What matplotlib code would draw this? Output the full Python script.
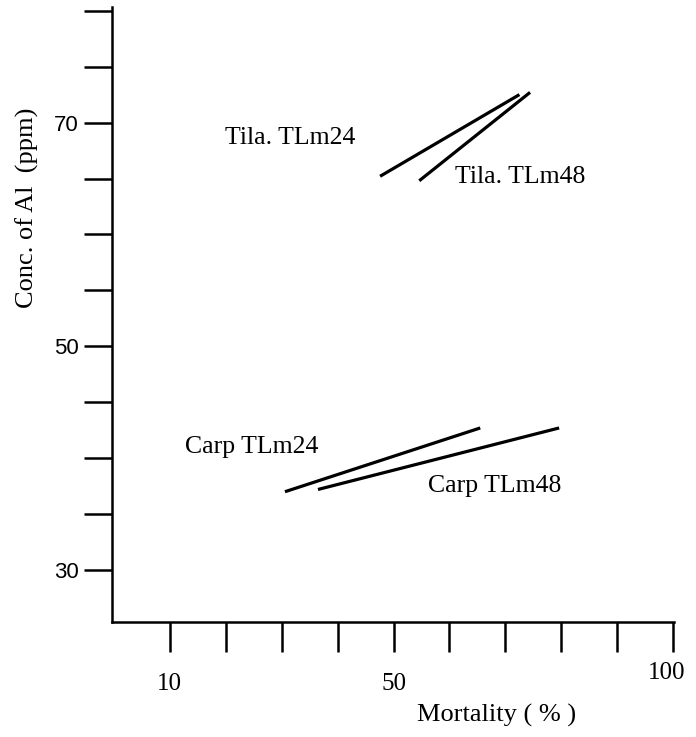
import matplotlib
matplotlib.use("Agg")
import matplotlib.pyplot as plt
from matplotlib.transforms import ScaledTranslation

# ---- data ----
series_names = ["Tila. TLm24", "Tila. TLm48", "Carp TLm24", "Carp TLm48"]
tila24_x = [47.6, 72.5]
tila24_y = [65.2, 72.5]
tila48_x = [54.6, 74.4]
tila48_y = [64.8, 72.7]
carp24_x = [30.6, 65.5]
carp24_y = [37.0, 42.7]
carp48_x = [36.5, 79.6]
carp48_y = [37.2, 42.7]

x_ticks = [10, 20, 30, 40, 50, 60, 70, 80, 90, 100]
x_tick_labels = ["10", "", "", "", "50", "", "", "", "", "100"]
y_ticks = [30, 35, 40, 45, 50, 55, 60, 65, 70, 75, 80]
y_tick_labels = ["30", "", "", "", "50", "", "", "", "70", "", ""]

SERIF = ["Liberation Serif", "DejaVu Serif"]
SANS = ["Liberation Sans", "DejaVu Sans"]

fig = plt.figure(figsize=(6.96, 7.37), dpi=100)
ax = fig.add_axes([0.161, 0.156, 0.808, 0.834])

lw = 2.3
for xs, ys in [(tila24_x, tila24_y), (tila48_x, tila48_y),
               (carp24_x, carp24_y), (carp48_x, carp48_y)]:
    ax.plot(xs, ys, color="black", lw=lw, solid_capstyle="butt")

ax.set_xlim(-0.3, 100.2)
ax.set_ylim(25.35, 80.3)

for s in ["top", "right"]:
    ax.spines[s].set_visible(False)
for s in ["left", "bottom"]:
    ax.spines[s].set_linewidth(1.8)
    ax.spines[s].set_color("black")

ax.set_xticks(x_ticks)
ax.set_xticklabels(x_tick_labels, fontfamily=SERIF, fontsize=18)
ax.set_yticks(y_ticks)
ax.set_yticklabels(y_tick_labels, fontfamily=SANS, fontsize=16)
ax.tick_params(axis="x", direction="out", length=21.5, width=1.8, pad=15)
ax.tick_params(axis="y", direction="out", length=20, width=1.8, pad=4)

# nudge the "100" label like in the scanned figure
lbl100 = ax.get_xticklabels()[-1]
lbl100.set_transform(lbl100.get_transform() +
                     ScaledTranslation(-5 / 72, 8 / 72, fig.dpi_scale_trans))

ax.set_xlabel("Mortality ( % )", fontfamily=SERIF, fontsize=19)
ax.xaxis.set_label_coords(0.683, -0.134)
ax.set_ylabel("Conc. of Al  (ppm)", fontfamily=SERIF, fontsize=19)
ax.yaxis.set_label_coords(-0.13, 0.6735)

txt_kw = dict(fontfamily=SERIF, fontsize=18.5, color="black", va="center", ha="left")
ax.text(19.9, 68.6, series_names[0], **txt_kw)
ax.text(61.0, 65.1, series_names[1], **txt_kw)
ax.text(12.7, 41.0, series_names[2], **txt_kw)
ax.text(56.2, 37.5, series_names[3], **txt_kw)

fig.savefig("out.png", dpi=100)
